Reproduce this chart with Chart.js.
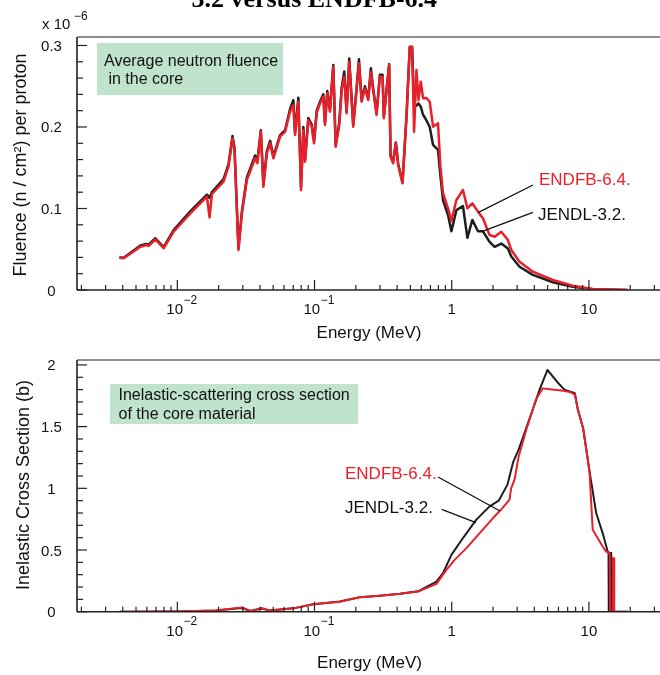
<!DOCTYPE html>
<html><head><meta charset="utf-8">
<script src="https://cdn.jsdelivr.net/npm/chart.js@4"></script>
<style>
html,body{margin:0;padding:0;background:#fff;overflow:hidden;width:660px;height:675px;}
canvas{position:absolute;left:0;top:0;}
</style></head><body>
<canvas id="c1" width="690" height="675"></canvas>
<canvas id="c2" width="690" height="675"></canvas>
<script>
// ---------- DATA ----------
// Top panel: average neutron fluence in the core (x 1e-6 n/cm2 per proton)
const topEnergy = [0.003786,0.004069,0.005382,0.00595,0.006183,0.006918,0.007953,0.009399,0.01243,0.01644,0.01718,0.01788,0.02171,0.0236,0.02525,0.02611,0.02791,0.02955,0.03212,0.03692,0.03837,0.04062,0.04242,0.04492,0.04747,0.05016,0.05612,0.06101,0.06634,0.07012,0.07215,0.07625,0.07976,0.0829,0.0853,0.09014,0.09541,0.09917,0.1038,0.1096,0.1159,0.1192,0.1239,0.1296,0.137,0.1426,0.1515,0.1577,0.1647,0.1714,0.1791,0.1915,0.2027,0.2107,0.2205,0.233,0.2462,0.2576,0.2677,0.2834,0.2995,0.3133,0.3202,0.35,0.3583,0.3742,0.3915,0.4069,0.438,0.4683,0.4948,0.5143,0.5318,0.5536,0.5725,0.5949,0.6183,0.6546,0.6918,0.7311,0.7948,0.8276,0.8643,0.9399,0.995,1.082,1.208,1.301,1.414,1.554,1.689,1.889,2.055,2.299,2.568,2.718,3.123,3.902,5.455,7.625,10.66,19.15];
const topENDF = [0.0396,0.0389,0.0531,0.0552,0.0540,0.0622,0.0512,0.0715,0.0941,0.1145,0.0890,0.1178,0.1329,0.1513,0.1861,0.1718,0.0491,0.0941,0.1350,0.1616,0.1555,0.1942,0.1267,0.1677,0.1800,0.1616,0.1881,0.1942,0.2188,0.2270,0.1902,0.2310,0.1227,0.1963,0.1574,0.2086,0.2004,0.1800,0.2172,0.2291,0.2372,0.2025,0.2413,0.2188,0.2740,0.1758,0.2025,0.2454,0.2617,0.2168,0.2801,0.2004,0.2454,0.2782,0.2310,0.2475,0.2331,0.2675,0.2454,0.2147,0.2617,0.2617,0.2107,0.2761,0.1636,0.1555,0.1800,0.1534,0.1309,0.2126,0.2985,0.2985,0.1942,0.2699,0.2331,0.2556,0.2352,0.2356,0.2310,0.2004,0.2045,0.1513,0.1187,0.1002,0.0847,0.1104,0.1227,0.1002,0.1064,0.0961,0.0880,0.0675,0.0654,0.0715,0.0613,0.0491,0.0347,0.0225,0.0123,0.0053,0.0012,0];
const topJENDL = [0.0400,0.0395,0.0545,0.0565,0.0555,0.0635,0.0525,0.0735,0.0965,0.1170,0.1130,0.1200,0.1360,0.1540,0.1890,0.1750,0.0510,0.0960,0.1380,0.1650,0.1590,0.1960,0.1300,0.1700,0.1830,0.1640,0.1900,0.1960,0.2220,0.2330,0.1930,0.2360,0.1260,0.2000,0.1600,0.2110,0.2030,0.1830,0.2200,0.2310,0.2400,0.2050,0.2440,0.2210,0.2760,0.1780,0.2050,0.2480,0.2680,0.2190,0.2840,0.2030,0.2480,0.2830,0.2330,0.2500,0.2350,0.2720,0.2470,0.2170,0.2640,0.2640,0.2130,0.2770,0.1650,0.1570,0.1810,0.1550,0.1320,0.2140,0.2980,0.2980,0.2280,0.2260,0.2290,0.2250,0.2150,0.2080,0.2000,0.1780,0.1720,0.1400,0.1100,0.0920,0.0720,0.0980,0.1030,0.0640,0.0860,0.0720,0.0720,0.0590,0.0530,0.0570,0.0510,0.0410,0.0285,0.0185,0.0095,0.0040,0.0010,0];

// Bottom panel: inelastic-scattering cross section (b)
const botEnergyENDF = [0.0038,0.01,0.019,0.0296,0.034,0.0412,0.047,0.07,0.098,0.153,0.214,0.3,0.42,0.569,0.774,0.915,1.05,1.28,1.6,2.0,2.3,2.64,2.71,2.87,3.08,3.5,4.11,4.6,5.4,6.5,7.3,7.9,8.3,9.1,10.1,10.66,12.6,13.3,14.2,14.3,14.95,15.0,15.25,15.3,19.2];
const botENDF = [0,0.002,0.01,0.035,0.006,0.03,0.01,0.027,0.06,0.081,0.117,0.13,0.145,0.163,0.225,0.339,0.42,0.515,0.637,0.759,0.83,0.908,1.0,1.07,1.26,1.477,1.72,1.81,1.80,1.79,1.78,1.76,1.64,1.48,1.136,0.664,0.528,0.488,0.47,0,0,0.434,0.434,0,0];
const botEnergyJENDL = [0.0038,0.01,0.019,0.0296,0.034,0.0412,0.047,0.07,0.098,0.153,0.214,0.3,0.42,0.569,0.774,0.864,0.995,1.208,1.512,1.889,2.2,2.55,2.8,3.08,3.98,4.37,4.99,5.9,6.63,7.9,8.3,9.1,10.1,11.3,12.6,13.7,13.9,13.96,14.35,14.4,14.5,14.55,19.2];
const botJENDL = [0,0.002,0.01,0.03,0.006,0.025,0.01,0.027,0.06,0.082,0.118,0.13,0.145,0.165,0.244,0.312,0.461,0.597,0.746,0.854,0.9,1.03,1.21,1.315,1.667,1.80,1.959,1.86,1.80,1.77,1.64,1.48,1.14,0.8,0.637,0.488,0.48,0,0,0.475,0.475,0,0];

// Tick labels
const xMajorTicks = [0.01, 0.1, 1, 10];
const xTickBase = ['10', '10', '1', '10'];
const xTickExp = ['\u22122', '\u22121', '', ''];
const topYTicks = [0, 0.1, 0.2, 0.3];
const topYTickLabels = ['0', '0.1', '0.2', '0.3'];
const botYTicks = [0, 0.5, 1, 1.5, 2];
const botYTickLabels = ['0', '0.5', '1', '1.5', '2'];

// ---------- STYLE ----------
const RED = '#e8202a', BLACK = '#1e1e1e', GREEN = 'rgb(192,227,205)';
const SANS = '"Liberation Sans", Arial, Helvetica, sans-serif';
const X_MIN = 0.001857, X_MAX = 50;

function pts(xs, ys) { return xs.map((x, i) => ({ x: x, y: ys[i] })); }

function line(ctx, x1, y1, x2, y2) { ctx.beginPath(); ctx.moveTo(x1, y1); ctx.lineTo(x2, y2); ctx.stroke(); }

function drawFrame(chart, yTicks, yLabels, yMinorStep, yMax) {
  const ctx = chart.ctx, xs = chart.scales.x, ys = chart.scales.y, a = chart.chartArea;
  ctx.save();
  ctx.lineCap = 'butt';
  ctx.strokeStyle = '#6a6a6a'; ctx.lineWidth = 1.6;
  line(ctx, a.left, a.top, 690, a.top);
  ctx.strokeStyle = '#222'; ctx.lineWidth = 1.6;
  line(ctx, a.left, a.top, a.left, a.bottom);
  line(ctx, a.left, a.bottom, 690, a.bottom);
  // x ticks
  ctx.lineWidth = 1.2;
  for (let k = -3; k <= 1; k++) {
    for (let m = 1; m <= 9; m++) {
      const v = m * Math.pow(10, k);
      if (v < X_MIN || v > X_MAX) continue;
      const px = xs.getPixelForValue(v);
      line(ctx, px, a.bottom, px, a.bottom - (m === 1 ? 10 : 5));
    }
  }
  // y ticks
  const nMinor = Math.round(yMax / yMinorStep);
  for (let i = 0; i <= nMinor; i++) {
    const v = i * yMinorStep;
    const py = ys.getPixelForValue(v);
    const major = yTicks.some(t => Math.abs(t - v) < 1e-9);
    line(ctx, a.left, py, a.left + (major ? 10 : 6), py);
  }
  // x tick labels
  ctx.fillStyle = '#111';
  ctx.textBaseline = 'alphabetic';
  xMajorTicks.forEach((v, i) => {
    const px = xs.getPixelForValue(v);
    ctx.font = '15px ' + SANS;
    const wb = ctx.measureText(xTickBase[i]).width;
    ctx.font = '12px ' + SANS;
    const we = xTickExp[i] ? ctx.measureText(xTickExp[i]).width : 0;
    const x0 = we ? px - 11 : px - wb / 2;
    ctx.font = '15px ' + SANS; ctx.textAlign = 'left';
    ctx.fillText(xTickBase[i], x0, a.bottom + 24);
    if (we) { ctx.font = '12px ' + SANS; ctx.fillText(xTickExp[i], x0 + wb + 0.5, a.bottom + 13.5); }
  });
  // y tick labels
  ctx.font = '15px ' + SANS; ctx.textAlign = 'center';
  yTicks.forEach((v, i) => {
    const py = ys.getPixelForValue(v);
    ctx.fillText(yLabels[i], 51.5, py + 5.5);
  });
  ctx.restore();
}

function drawText(ctx, txt, x, y, font, color, align) {
  ctx.font = font; ctx.fillStyle = color; ctx.textAlign = align || 'left'; ctx.textBaseline = 'alphabetic';
  ctx.fillText(txt, x, y);
}

function drawVTitle(ctx, txt, cx, cy, font) {
  ctx.save();
  ctx.translate(cx, cy); ctx.rotate(-Math.PI / 2);
  ctx.font = font; ctx.fillStyle = '#111'; ctx.textAlign = 'center'; ctx.textBaseline = 'middle';
  ctx.fillText(txt, 0, 0);
  ctx.restore();
}

const topDeco = {
  id: 'topDeco',
  beforeDatasetsDraw(chart) {
    const ctx = chart.ctx;
    ctx.save();
    ctx.fillStyle = GREEN; ctx.fillRect(97, 43, 186, 52);
    drawText(ctx, 'Average neutron fluence', 104, 66, '16px ' + SANS, '#111');
    drawText(ctx, ' in the core', 104, 84, '16px ' + SANS, '#111');
    ctx.restore();
  },
  afterDraw(chart) {
    const ctx = chart.ctx;
    drawFrame(chart, topYTicks, topYTickLabels, 0.02, 0.3);
    ctx.save();
    drawText(ctx, '3.2 versus ENDFB-6.4', 191.5, 7, 'bold 26px "Liberation Serif", "Times New Roman", serif', '#000');
    drawText(ctx, 'x 10', 42, 29, '15px ' + SANS, '#111');
    drawText(ctx, '\u22126', 74, 20, '12px ' + SANS, '#111');
    drawVTitle(ctx, 'Fluence (n / cm\u00B2) per proton', 21, 165, '18px ' + SANS);
    drawText(ctx, 'Energy (MeV)', 369, 338, '17px ' + SANS, '#111', 'center');
    drawText(ctx, 'ENDFB-6.4.', 539, 185, '17px ' + SANS, RED);
    drawText(ctx, 'JENDL-3.2.', 538, 220, '17px ' + SANS, '#111');
    ctx.strokeStyle = '#111'; ctx.lineWidth = 1.3;
    line(ctx, 533, 185, 478, 212.7);
    line(ctx, 533, 212.3, 481.7, 231.7);
    ctx.restore();
  }
};

const botDeco = {
  id: 'botDeco',
  beforeDatasetsDraw(chart) {
    const ctx = chart.ctx;
    ctx.save();
    ctx.fillStyle = GREEN; ctx.fillRect(110, 384, 248, 40);
    drawText(ctx, 'Inelastic-scattering cross section', 118.5, 400, '16px ' + SANS, '#111');
    drawText(ctx, 'of the core material', 118.5, 418.5, '16px ' + SANS, '#111');
    ctx.restore();
  },
  afterDraw(chart) {
    const ctx = chart.ctx;
    drawFrame(chart, botYTicks, botYTickLabels, 0.1, 2.0);
    ctx.save();
    drawVTitle(ctx, 'Inelastic Cross Section (b)', 24, 485, '18px ' + SANS);
    drawText(ctx, 'Energy (MeV)', 369.5, 668, '17px ' + SANS, '#111', 'center');
    drawText(ctx, 'ENDFB-6.4.', 345, 479, '17px ' + SANS, RED);
    drawText(ctx, 'JENDL-3.2.', 345, 513, '17px ' + SANS, '#111');
    ctx.strokeStyle = '#111'; ctx.lineWidth = 1.3;
    line(ctx, 438, 477, 500, 511);
    line(ctx, 441.7, 509.3, 476, 522.7);
    ctx.restore();
  }
};

function makeChart(id, datasets, pad, yMax, plugin) {
  return new Chart(document.getElementById(id), {
    type: 'line',
    data: { datasets: datasets },
    options: {
      responsive: false, animation: false, devicePixelRatio: 1,
      layout: { padding: pad },
      plugins: { legend: { display: false }, tooltip: { enabled: false }, title: { display: false } },
      elements: { point: { radius: 0 }, line: { tension: 0, borderJoinStyle: 'round' } },
      scales: {
        x: { type: 'logarithmic', min: X_MIN, max: X_MAX, display: false },
        y: { type: 'linear', min: 0, max: yMax, display: false }
      }
    },
    plugins: [plugin]
  });
}

makeChart('c1', [
  { label: 'ENDFB-6.4.', data: pts(topEnergy, topENDF), borderColor: RED, borderWidth: 2.5, fill: false },
  { label: 'JENDL-3.2.', data: pts(topEnergy, topJENDL), borderColor: BLACK, borderWidth: 2.5, fill: false }
], { left: 77, top: 37, right: 690 - 684.8, bottom: 675 - 290 }, 0.3104, topDeco);

makeChart('c2', [
  { label: 'ENDFB-6.4.', data: pts(botEnergyENDF, botENDF), borderColor: RED, borderWidth: 2, fill: false },
  { label: 'JENDL-3.2.', data: pts(botEnergyJENDL, botJENDL), borderColor: BLACK, borderWidth: 2, fill: false }
], { left: 77, top: 360, right: 690 - 684.8, bottom: 675 - 611.7 }, 2.04, botDeco);
</script>
</body></html>
